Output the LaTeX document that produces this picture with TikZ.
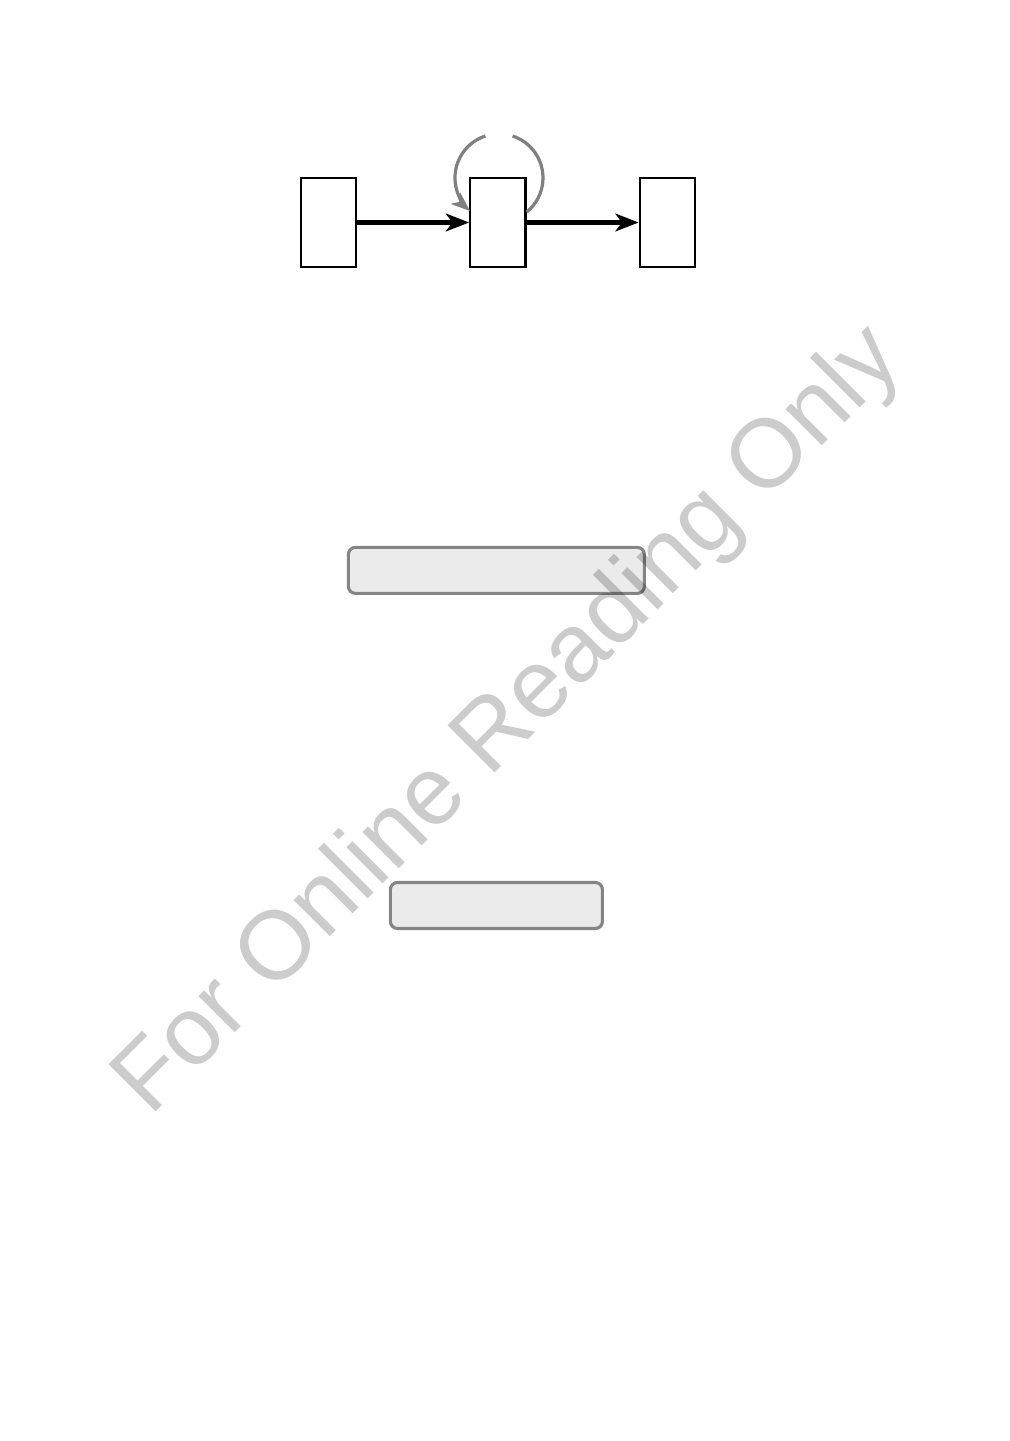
\documentclass[tikz,border=0pt]{standalone}
\usepackage{fontspec}
\usepackage{tikz}
\usetikzlibrary{arrows.meta,positioning}
\newfontfamily\wmfont{Liberation Sans}
\definecolor{LoopGray}{HTML}{808080}
\definecolor{PanelFill}{HTML}{EBEBEB}
\definecolor{PanelLine}{HTML}{858585}

\begin{document}
\begin{tikzpicture}[
  node distance=2.8cm,
  % ── plain state box ──────────────────────────────────────────────────────
  state/.style={
    draw=black, fill=white, line width=1.6pt,
    minimum width=1.38cm, minimum height=2.22cm,
    inner sep=0pt
  },
  % ── grey rounded panel ───────────────────────────────────────────────────
  panel/.style={
    draw=PanelLine, fill=PanelFill, line width=2.2pt,
    minimum height=1.15cm, rounded corners=5pt,
    inner sep=0pt
  },
  % ── arrows ───────────────────────────────────────────────────────────────
  arr/.style={-{Stealth[length=0.58cm, width=0.44cm, inset=0.16cm]},
    draw=black, line width=3.1pt},
  loopline/.style={-{Stealth[length=0.48cm, width=0.36cm, inset=0.13cm]},
    draw=LoopGray, line width=2.3pt},
  % ── watermark ────────────────────────────────────────────────────────────
  wmark/.style={font=\wmfont\fontsize{69}{69}\selectfont,
    text=black, text opacity=0.2, rotate=45, inner sep=0pt},
]
\useasboundingbox (0,0) rectangle (25.225,-36.025);

%% ── Row of three boxes ────────────────────────────────────────────────────
\node[state] (L) at (8.2125,-5.5625) {};
\node[state] (M) [right=of L] {};
\node[state] (R) [right=of M] {};

%% ── Horizontal arrows ─────────────────────────────────────────────────────
\draw[arr] (L.east) -- (M.west);
\draw[arr] (M.east) -- (R.west);

%% ── Self loop on the middle box (open at the top) ─────────────────────────
\draw[loopline] (M.20) arc[start angle=-51, end angle=72, radius=1.1cm]
  ++(-0.68,0) arc[start angle=108, end angle=229, radius=1.1cm];

%% ── Grey panels ───────────────────────────────────────────────────────────
\node[panel, minimum width=7.4cm] (P1) at (12.41,-14.26) {};
\node[panel, minimum width=5.3cm] (P2) [below=7.15cm of P1] {};

%% ── Watermark ─────────────────────────────────────────────────────────────
\node[wmark] (WM) at (12.75,-18.05) {For Online Reading Only};

\end{tikzpicture}
\end{document}
